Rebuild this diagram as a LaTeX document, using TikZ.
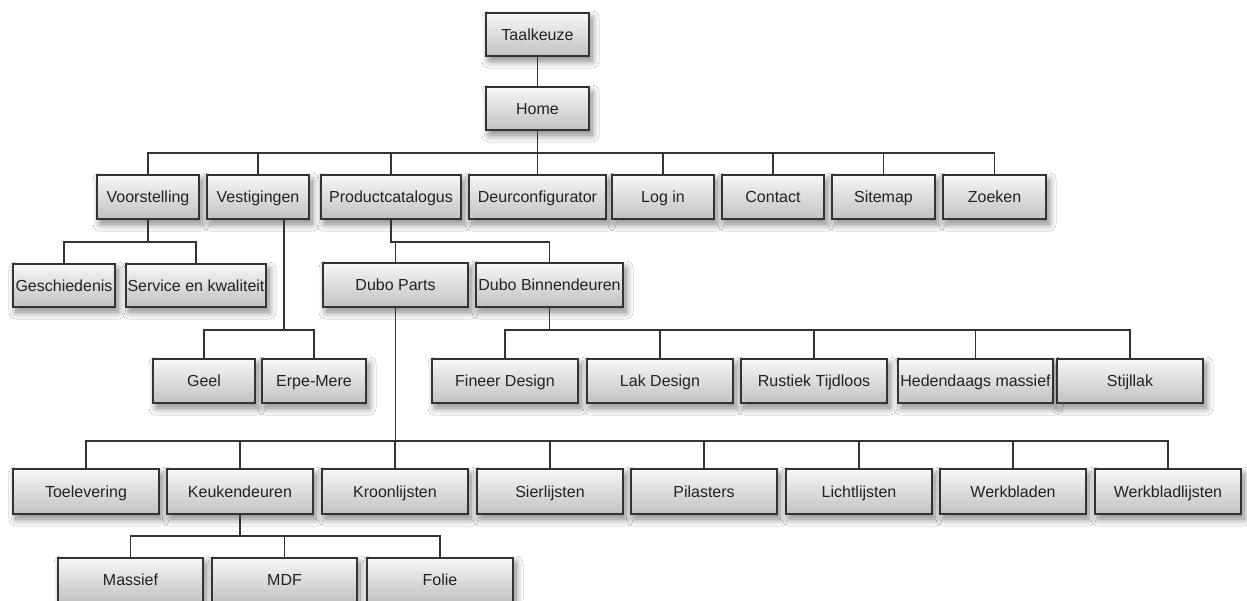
\documentclass[tikz,border=0pt]{standalone}
\usepackage{fontspec}
\setmainfont{Liberation Sans}
\usetikzlibrary{shadows.blur}
\definecolor{edgec}{HTML}{333333}
\definecolor{txtc}{HTML}{222222}
\tikzset{
  box/.style={draw=edgec, line width=1.4pt, top color=white!97!black, bottom color=black!24,
    inner sep=0pt, text=txtc, font=\fontsize{16}{18}\selectfont, text height=11.5pt, text depth=0pt,
    blur shadow={shadow xshift=3pt, shadow yshift=-5pt, shadow opacity=50, shadow blur radius=7pt, shadow blur steps=10}},
  link/.style={draw=edgec, line width=1.5pt},
}
\newcommand\bx[6]{\node[box, minimum width={(#4-#2)*1pt}, minimum height={(#5-#3)*1pt}] (#1) at ({(#2+#4)/2},{(#3+#5)/2}) {#6};}
\begin{document}
\begin{tikzpicture}[x=1pt,y=-1pt]
\useasboundingbox[fill=white] (0,0) rectangle (1247,600);
% buses
\coordinate (b1) at (0,153);
\coordinate (b2) at (0,242);
\coordinate (b3) at (0,330);
\coordinate (b4) at (0,441);
\coordinate (b5) at (0,536);
% row 0
\bx{taal}{486}{13}{589}{56}{Taalkeuze}
\bx{home}{486}{87}{589}{130}{Home}
% row 1
\bx{voor}{97}{175}{199}{219}{Voorstelling}
\bx{vest}{207}{175}{309}{219}{Vestigingen}
\bx{pc}{321}{175}{461}{219}{Productcatalogus}
\bx{deur}{469}{175}{606}{219}{Deurconfigurator}
\bx{login}{612}{175}{714}{219}{Log in}
\bx{contact}{722}{175}{824}{219}{Contact}
\bx{sitemap}{832}{175}{935}{219}{Sitemap}
\bx{zoeken}{943}{175}{1046}{219}{Zoeken}
% row 2
\bx{gesch}{13}{264}{115}{307}{Geschiedenis}
\bx{service}{126}{264}{266}{307}{Service en kwaliteit}
\bx{dparts}{323}{263}{468}{307}{Dubo Parts}
\bx{dbinn}{476}{263}{623}{307}{Dubo Binnendeuren}
% row 3
\bx{geel}{153}{359}{255}{403}{Geel}
\bx{erpe}{262}{359}{366}{403}{Erpe-Mere}
\bx{fineer}{432}{359}{578}{403}{Fineer Design}
\bx{lak}{587}{359}{733}{403}{Lak Design}
\bx{rustiek}{741}{359}{887}{403}{Rustiek Tijdloos}
\bx{heden}{898}{359}{1053}{403}{Hedendaags massief}
\bx{stijl}{1057}{359}{1203}{403}{Stijllak}
% row 4
\bx{toel}{13}{469}{159}{514}{Toelevering}
\bx{keuk}{167}{469}{313}{514}{Keukendeuren}
\bx{kroon}{322}{469}{468}{514}{Kroonlijsten}
\bx{sier}{477}{469}{623}{514}{Sierlijsten}
\bx{pil}{631}{469}{777}{514}{Pilasters}
\bx{licht}{786}{469}{932}{514}{Lichtlijsten}
\bx{werkb}{940}{469}{1086}{514}{Werkbladen}
\bx{werkbl}{1095}{469}{1241}{514}{Werkbladlijsten}
% row 5
\bx{massief}{58}{558}{203}{602}{Massief}
\bx{mdf}{212}{558}{357}{602}{MDF}
\bx{folie}{367}{558}{513}{602}{Folie}
% connectors
\draw[link] (taal.south) -- (home.north);
\foreach \c in {voor,vest,pc,deur,login,contact,sitemap,zoeken}
  \draw[link] (home.south) -- (home.south |- b1) -| (\c.north);
\foreach \c in {gesch,service}
  \draw[link] (voor.south) -- (voor.south |- b2) -| (\c.north);
\draw[link] (pc.south) -- (pc.south |- b2) -| (dparts.north);
\draw[link] (pc.south |- b2) -| (dbinn.north);
\coordinate (vd) at ([xshift=26pt]vest.south);
\draw[link] (vd) -- (vd |- b3);
\foreach \c in {geel,erpe}
  \draw[link] (vd |- b3) -| (\c.north);
\foreach \c in {fineer,lak,rustiek,heden,stijl}
  \draw[link] (dbinn.south) -- (dbinn.south |- b3) -| (\c.north);
\foreach \c in {toel,keuk,kroon,sier,pil,licht,werkb,werkbl}
  \draw[link] (dparts.south) -- (dparts.south |- b4) -| (\c.north);
\foreach \c in {massief,mdf,folie}
  \draw[link] (keuk.south) -- (keuk.south |- b5) -| (\c.north);
\end{tikzpicture}
\end{document}
